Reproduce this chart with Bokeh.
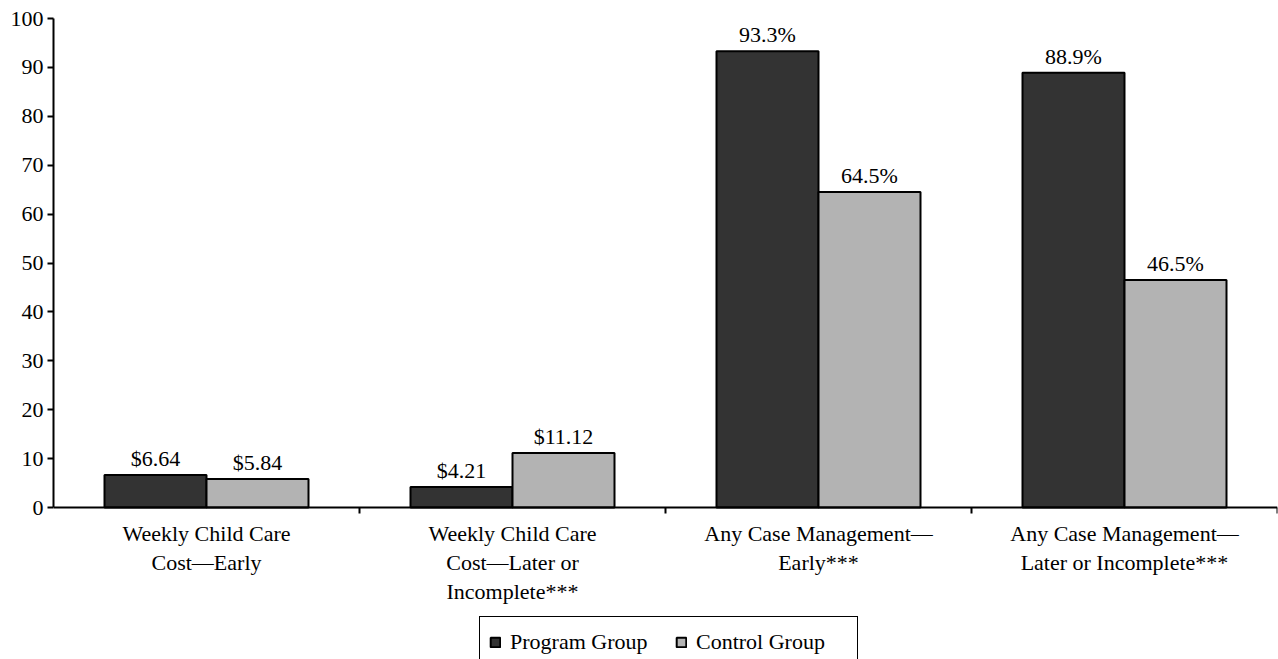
from bokeh.plotting import figure
from bokeh.models import ColumnDataSource, Range1d, FixedTicker, Legend, LegendItem
from bokeh.core.properties import value
from bokeh.embed import file_html
from bokeh.resources import INLINE

categories = [
    "Weekly Child Care\nCost\u2014Early",
    "Weekly Child Care\nCost\u2014Later or\nIncomplete***",
    "Any Case Management\u2014\nEarly***",
    "Any Case Management\u2014\nLater or Incomplete***",
]
program = [6.64, 4.21, 93.3, 88.9]
control = [5.84, 11.12, 64.5, 46.5]
program_labels = ["$6.64", "$4.21", "93.3%", "88.9%"]
control_labels = ["$5.84", "$11.12", "64.5%", "46.5%"]
series_names = ["Program Group", "Control Group"]
y_ticks = list(range(0, 101, 10))

FONT = "Liberation Serif"
FS = "22px"
BAR_W = 1 / 3

W, H = 1278, 659
TOP, LEFT = 18, 53
PX_PER_UNIT = 4.89          # vertical pixels per value unit (0..100 spans 489 px)
y_min = 100 - (H - TOP) / PX_PER_UNIT

idx = list(range(len(categories)))
src_p = ColumnDataSource(dict(x=[i + 0.5 - BAR_W / 2 for i in idx], top=program, lab=program_labels))
src_c = ColumnDataSource(dict(x=[i + 0.5 + BAR_W / 2 for i in idx], top=control, lab=control_labels))

p = figure(width=W, height=H, output_backend="svg", toolbar_location=None,
           x_range=Range1d(0, len(categories)), y_range=Range1d(y_min, 100),
           min_border_left=LEFT, min_border_right=1, min_border_top=TOP, min_border_bottom=0)
p.outline_line_color = None
p.xgrid.visible = False
p.ygrid.visible = False
p.background_fill_color = "white"
p.border_fill_color = "white"

rp = p.vbar(x="x", top="top", width=BAR_W, bottom=0, source=src_p,
            fill_color="#333333", line_color="black", line_width=2)
rc = p.vbar(x="x", top="top", width=BAR_W, bottom=0, source=src_c,
            fill_color="#b3b3b3", line_color="black", line_width=2)

for s in (src_p, src_c):
    p.text(x="x", y="top", text="lab", source=s, text_align="center",
           text_baseline="bottom", y_offset=-4,
           text_font=value(FONT), text_font_size=value(FS), text_color="black")

# y axis
ya = p.yaxis[0]
ya.ticker = FixedTicker(ticks=y_ticks)
ya.bounds = (0, 100)
ya.axis_line_width = 2
ya.major_tick_line_width = 2
ya.major_tick_in = 0
ya.major_tick_out = 6
ya.minor_tick_line_color = None
ya.major_label_standoff = 4
ya.major_label_text_font = FONT
ya.major_label_text_font_size = FS
ya.major_label_text_color = "black"

# x axis at value 0: labels at category centres, ticks at boundaries
xa = p.xaxis[0]
xa.fixed_location = 0
xa.ticker = FixedTicker(ticks=[i + 0.5 for i in idx], minor_ticks=[i + 1 for i in idx])
xa.major_label_overrides = {i + 0.5: c for i, c in zip(idx, categories)}
xa.axis_line_width = 2
xa.major_tick_line_color = None
xa.major_tick_in = 0
xa.major_tick_out = 6
xa.minor_tick_in = 0
xa.minor_tick_out = 6
xa.minor_tick_line_width = 2
xa.minor_tick_line_color = "black"
xa.major_label_standoff = 7
xa.major_label_text_font = FONT
xa.major_label_text_font_size = FS
xa.major_label_text_color = "black"
xa.major_label_text_line_height = 1.16

legend = Legend(items=[LegendItem(label=series_names[0], renderers=[rp]),
                       LegendItem(label=series_names[1], renderers=[rc])],
                orientation="horizontal", location=(426, -9),
                label_text_font=FONT, label_text_font_size=FS, label_text_color="black",
                label_height=32, label_width=152, glyph_width=12, glyph_height=12,
                label_standoff=9, spacing=13,
                padding=9, margin=0, border_line_color="black", border_line_width=1,
                border_line_alpha=1, background_fill_color="white", background_fill_alpha=1)
p.add_layout(legend, "center")

open("out.html", "w").write(file_html(p, INLINE))
